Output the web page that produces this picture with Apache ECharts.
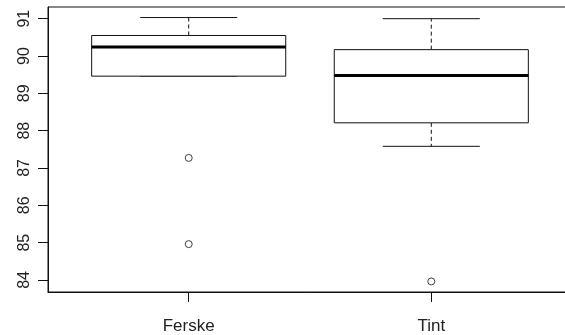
<!DOCTYPE html>
<html>
<head>
<meta charset="utf-8">
<script src="https://cdn.jsdelivr.net/npm/echarts@6/dist/echarts.min.js"></script>
<style>
  html, body { margin: 0; padding: 0; background: #fff; }
  #chart { width: 565px; height: 335px; }
</style>
</head>
<body>
<div id="chart"></div>
<script>
// ---- data ----
const categories   = ['Ferske', 'Tint'];
const whiskerLow   = [89.46, 87.58];
const q1           = [89.46, 88.21];
const median       = [90.24, 89.48];
const q3           = [90.55, 90.17];
const whiskerHigh  = [91.03, 91.00];
const outliersFerske = [87.27, 84.96];
const outliersTint   = [83.96];
const yTicks = [84, 85, 86, 87, 88, 89, 90, 91];

// ---- build series data ----
const boxData = categories.map((c, i) => [i + 1, whiskerLow[i], q1[i], median[i], q3[i], whiskerHigh[i]]);
const outlierData = []
  .concat(outliersFerske.map(v => [1, v]))
  .concat(outliersTint.map(v => [2, v]));

// R-style axis ranges (data range extended by 4%)
const allVals = [].concat(whiskerLow, whiskerHigh, outliersFerske, outliersTint);
const dMin = Math.min.apply(null, allVals), dMax = Math.max.apply(null, allVals);
const ext = (dMax - dMin) * 0.04;

const LINE = '#111';
const FONT = 'Liberation Sans, Arial, sans-serif';

function renderBox(params, api) {
  const x = api.value(0);
  const lo = api.coord([x, api.value(1)]);
  const b1 = api.coord([x, api.value(2)]);
  const md = api.coord([x, api.value(3)]);
  const b3 = api.coord([x, api.value(4)]);
  const hi = api.coord([x, api.value(5)]);
  const halfBox = api.size([0.4, 0])[0];
  const halfCap = api.size([0.2, 0])[0];
  const cx = lo[0];
  const solid = { stroke: LINE, lineWidth: 1, fill: null };
  const dashed = { stroke: LINE, lineWidth: 1, lineDash: [4, 3], fill: null };
  return {
    type: 'group',
    children: [
      { type: 'line', shape: { x1: cx, y1: b3[1], x2: cx, y2: hi[1] }, style: dashed },
      { type: 'line', shape: { x1: cx, y1: b1[1], x2: cx, y2: lo[1] }, style: dashed },
      { type: 'line', shape: { x1: cx - halfCap, y1: hi[1], x2: cx + halfCap, y2: hi[1] }, style: solid },
      { type: 'line', shape: { x1: cx - halfCap, y1: lo[1], x2: cx + halfCap, y2: lo[1] }, style: solid },
      { type: 'rect', shape: { x: cx - halfBox, y: b3[1], width: 2 * halfBox, height: b1[1] - b3[1] },
        style: { stroke: LINE, lineWidth: 1, fill: '#fff' } },
      { type: 'line', shape: { x1: cx - halfBox, y1: md[1], x2: cx + halfBox, y2: md[1] },
        style: { stroke: '#000', lineWidth: 3 } }
    ]
  };
}

const chart = echarts.init(document.getElementById('chart'), null, { renderer: 'canvas' });
chart.setOption({
  animation: false,
  backgroundColor: '#fff',
  grid: {
    left: 48, top: 7, width: 524, height: 285,
    outerBoundsMode: 'none', containLabel: false,
    show: true, borderColor: LINE, borderWidth: 1, backgroundColor: 'transparent'
  },
  xAxis: {
    type: 'value',
    min: 0.42, max: 2.58,
    splitLine: { show: false },
    axisLine: { show: true, lineStyle: { color: LINE } },
    axisTick: { show: true, customValues: [1, 2], length: 10, lineStyle: { color: LINE } },
    axisLabel: {
      customValues: [1, 2],
      formatter: v => categories[Math.round(v) - 1] || '',
      color: '#222', fontFamily: FONT, fontSize: 17, margin: 26
    }
  },
  yAxis: {
    type: 'value',
    min: dMin - ext, max: dMax + ext,
    splitLine: { show: false },
    axisLine: { show: true, lineStyle: { color: LINE } },
    axisTick: { show: true, customValues: yTicks, length: 10, lineStyle: { color: LINE } },
    axisLabel: {
      customValues: yTicks,
      rotate: 90,
      color: '#222', fontFamily: FONT, fontSize: 16, margin: 15
    }
  },
  series: [
    {
      type: 'custom',
      renderItem: renderBox,
      encode: { x: 0, y: [1, 2, 3, 4, 5] },
      data: boxData,
      z: 2
    },
    {
      type: 'scatter',
      symbol: 'circle',
      symbolSize: 7,
      itemStyle: { color: 'rgba(0,0,0,0)', borderColor: LINE, borderWidth: 1 },
      data: outlierData,
      z: 3
    }
  ]
});
</script>
</body>
</html>
